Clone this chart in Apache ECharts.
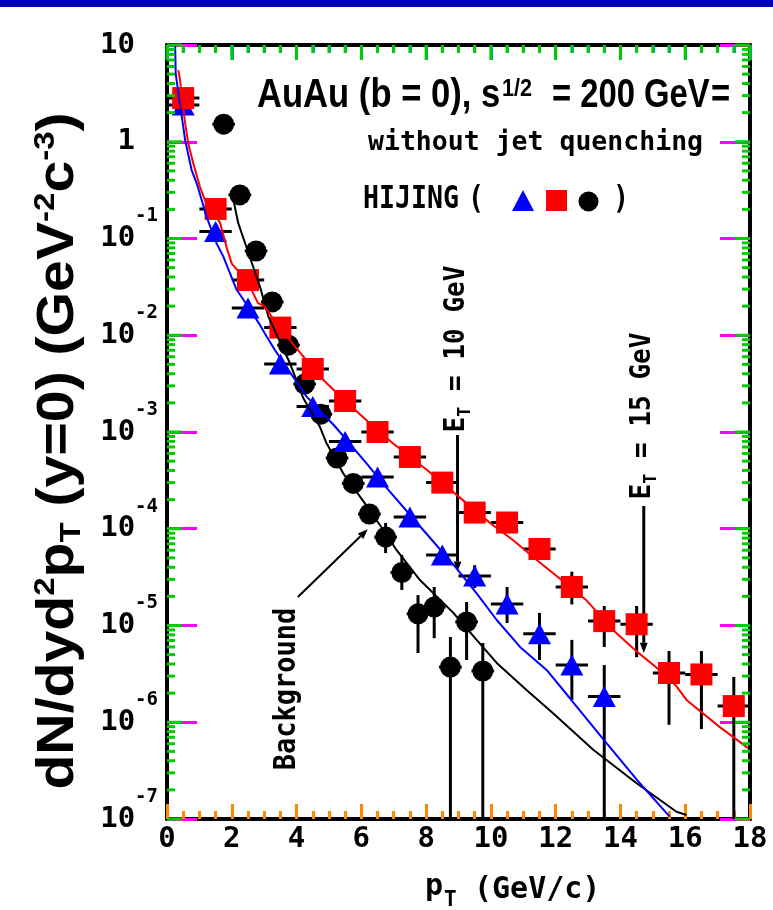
<!DOCTYPE html>
<html><head><meta charset="utf-8">
<script src="https://cdn.jsdelivr.net/npm/echarts@6/dist/echarts.min.js"></script>
<style>html,body{margin:0;padding:0;background:#fff}#c{width:773px;height:910px}</style>
</head><body><div id="c"></div>
<script>
// ---------- data ----------
const redPt  = [0.5,1.5,2.5,3.5,4.5,5.5,6.5,7.5,8.5,9.5,10.5,11.5,12.5,13.5,14.5,15.5,16.5,17.5];
const redVal = [2.83,0.202,0.0372,0.012,4.48e-3,2.09e-3,1.0e-3,5.52e-4,3.0e-4,1.47e-4,1.16e-4,6.18e-5,2.5e-5,1.11e-5,1.03e-5,3.23e-6,3.12e-6,1.47e-6];
const redLo  = [0,0,0,0,0,0,0,0,0,0,0,0,1.65e-5,6.0e-6,4.7e-6,9.4e-7,8.5e-7,1e-9];
const redHi  = [0,0,0,0,0,0,0,0,0,0,0,0,3.6e-5,1.59e-5,1.59e-5,5.45e-6,5.45e-6,2.94e-6];
const bluPt  = [0.5,1.5,2.5,3.5,4.5,5.5,6.5,7.5,8.5,9.5,10.5,11.5,12.5,13.5];
const bluVal = [2.4,0.118,0.0191,5.05e-3,1.84e-3,7.97e-4,3.43e-4,1.32e-4,5.36e-5,3.25e-5,1.67e-5,8.2e-6,3.9e-6,1.85e-6];
const bluLo  = [0,0,0,0,0,0,0,0,0,2.44e-5,1.06e-5,4.4e-6,1.7e-6,1e-9];
const bluHi  = [0,0,0,0,0,0,0,0,0,4.2e-5,2.5e-5,1.35e-5,7.1e-6,3.9e-6];
const blkPt  = [1.75,2.25,2.75,3.25,3.75,4.25,4.75,5.25,5.75,6.25,6.75,7.25,7.75,8.25,8.75,9.25,9.75];
const blkVal = [1.52,0.282,0.0743,0.0221,7.9e-3,3.13e-3,1.53e-3,5.38e-4,2.94e-4,1.42e-4,8.2e-5,3.53e-5,1.32e-5,1.55e-5,3.72e-6,1.09e-5,3.39e-6];
const blkLo  = [0,0,0,0,0,0,0,0,0,0,5.6e-5,2.33e-5,5.2e-6,7.4e-6,1e-9,4.4e-6,1e-9];
const blkHi  = [0,0,0,0,0,0,0,0,0,0,1.15e-4,5.36e-5,2.06e-5,2.5e-5,7.6e-6,1.75e-5,6.6e-6];
const redCurveX = [0.35,0.40,0.56,0.66,0.81,1.02,1.17,1.64,1.84,2.00,2.50,2.81,3.00,3.50,4.16,4.82,5.50,6.10,6.98,8.01,8.94,9.97,10.69,11.5,12.0,12.95,13.88,14.5,15.1,15.73,16.04,17.07,17.94];
const redCurveY = [5.5,4.4,1.55,0.95,0.60,0.34,0.25,0.145,0.081,0.055,0.035,0.0215,0.020,0.0117,0.0063,0.00347,0.00209,0.00138,7.6e-4,4.1e-4,2.24e-4,1.15e-4,7.6e-5,4.5e-5,3.3e-5,1.82e-5,8.3e-6,5.4e-6,3.7e-6,2.35e-6,1.7e-6,8.9e-7,5.4e-7];
const bluCurveX = [0.25,0.27,0.56,0.76,0.92,1.07,1.22,1.53,1.74,1.94,2.15,2.30,2.87,3.08,3.33,4.31,5.19,6.16,6.80,7.91,8.94,9.56,10.18,10.9,11.72,12.44,13.57,14.6,15.52];
const bluCurveY = [10,5.0,1.04,0.51,0.37,0.25,0.168,0.089,0.065,0.044,0.0295,0.025,0.0128,0.00966,0.00705,0.00232,0.00114,4.74e-4,2.6e-4,9.7e-5,3.9e-5,2.15e-5,1.14e-5,6.0e-6,3.47e-6,1.77e-6,6.07e-7,2.34e-7,1.06e-7];
const blkCurveX = [2.07,2.2,2.34,2.66,2.87,3.13,3.8,4.21,4.72,4.93,5.44,6.11,6.68,7.09,7.81,8.84,9.56,10.18,11.1,11.92,13.16,14.5,15.73,16.04];
const blkCurveY = [0.233,0.144,0.105,0.051,0.0318,0.0156,0.0051,0.00223,0.00113,7.6e-4,3.74e-4,1.83e-4,9.7e-5,6.0e-5,2.95e-5,1.35e-5,7.1e-6,4.1e-6,2.15e-6,1.24e-6,5.2e-7,2.34e-7,1.19e-7,1.1e-7];
const arrow10 = [[8.97,9.3e-4],[8.97,3.6e-5]];
const arrow15 = [[14.72,1.72e-4],[14.72,5.2e-6]];
const arrowBg = [[4.04,1.97e-5],[6.2,9.9e-5]];
const xTicks = {min:0, max:18, interval:2, minorStep:0.5};
const yRange = {min:1e-7, max:10};
const yDecades = [-7,-6,-5,-4,-3,-2,-1,0,1];

const MONO = "'DejaVu Sans Mono', monospace";
const SANS = "'Liberation Sans', Arial, sans-serif";
const zip = (a,b) => a.map((x,i)=>[x,b[i]]);
const errData = (pt,val,dx,lo,hi) => pt.map((x,i)=>[x,val[i],dx,lo[i],hi[i]]);

function renderErr(params, api){
  const cs = params.coordSys;
  const x=api.value(0), y=api.value(1), dx=api.value(2), lo=api.value(3), hi=api.value(4);
  const c=api.coord([x,y]), l=api.coord([x-dx,y]), r=api.coord([x+dx,y]);
  const ch=[{type:'line', shape:{x1:l[0],y1:c[1],x2:r[0],y2:c[1]}, style:{stroke:'#000', lineWidth:3}}];
  if(lo>0 && hi>0){
    const a=api.coord([x,hi]), b=api.coord([x,lo]);
    ch.push({type:'line', shape:{x1:c[0],y1:a[1],x2:c[0],y2:Math.min(b[1], cs.y+cs.height)}, style:{stroke:'#000', lineWidth:3}});
  }
  return {type:'group', children:ch};
}
function renderArrow(params, api){
  const p1=api.coord([api.value(0),api.value(1)]), p2=api.coord([api.value(2),api.value(3)]);
  const w=api.value(4), hs=api.value(5);
  const ang=Math.atan2(p2[1]-p1[1], p2[0]-p1[0]); const ux=Math.cos(ang), uy=Math.sin(ang);
  const bx=p2[0]-ux*hs*1.7, by=p2[1]-uy*hs*1.7;
  return {type:'group', children:[
    {type:'line', shape:{x1:p1[0],y1:p1[1],x2:bx,y2:by}, style:{stroke:'#000', lineWidth:w}},
    {type:'polygon', shape:{points:[[p2[0],p2[1]],[bx-uy*hs*0.65,by+ux*hs*0.65],[bx+uy*hs*0.65,by-ux*hs*0.65]]}, style:{fill:'#000'}}]};
}
const yMajorTicks=[], yMinorTicks=[];
yDecades.forEach(e=>{ yMajorTicks.push(Math.pow(10,e)); if(e<1) for(let k=2;k<=9;k++) yMinorTicks.push(k*Math.pow(10,e)); });
const xMajorTicks=[], xMinorTicks=[];
for(let v=xTicks.min; v<=xTicks.max+1e-9; v+=xTicks.minorStep){ (Math.abs(v%xTicks.interval)<1e-9 ? xMajorTicks : xMinorTicks).push(v); }
// DIAGNOSTIC colours: scatter ticks green
function tickSeries(data, size, offset){
  return {type:'scatter', silent:true, clip:false, z:6, symbol:'rect', symbolSize:size, symbolOffset:offset,
    itemStyle:{color:'#00cc00', opacity:1}, data:data};
}
function xAx(pos, labels, col){
  return {type:'value', position:pos, min:xTicks.min, max:xTicks.max, interval:xTicks.interval,
    axisLine:{show:true, onZero:false, lineStyle:{color:'#000', width:4}},
    axisTick:{show:true, inside:true, length:15, lineStyle:{color:col, width:3}},
    minorTick:{show:true, splitNumber:4, length:8, lineStyle:{color:col, width:3}},
    splitLine:{show:false}, minorSplitLine:{show:false},
    axisLabel:{show:labels, fontFamily:MONO, fontWeight:'bold', fontSize:29, color:'#000', margin:6}};
}
function yAx(pos, labels){
  return {type:'log', logBase:10, position:pos, min:yRange.min, max:yRange.max, splitNumber:8,
    axisLine:{show:true, onZero:false, lineStyle:{color:'#000', width:4}},
    axisTick:{show:true, inside:true, length:30, lineStyle:{color:'#ff00ff', width:3}},
    splitLine:{show:false},
    axisLabel:{show:labels, margin:9, color:'#000',
      formatter:function(v){const e=Math.round(Math.log10(v));
        if(e===1) return '{b|10}{sp| }'; if(e===0) return '{b|1}{sp| }';
        return '{b|10}{s|'+e+'}';},
      rich:{b:{fontFamily:MONO, fontWeight:'bold', fontSize:29, padding:[17,0,17,0], verticalAlign:'middle', color:'#000'},
            s:{fontFamily:MONO, fontWeight:'bold', fontSize:19, lineHeight:20, verticalAlign:'top', color:'#000'},
            sp:{width:23, fontSize:19}}}};
}
function txt(x,y,text,font,extra){
  const o={type:'text', x:x, y:y, z:100, style:{text:text, font:font, fill:'#000', align:'left', verticalAlign:'middle'}};
  if(extra){ if(extra.scaleX) o.scaleX=extra.scaleX; }
  return o;
}
function rtxt(x,y,text,font,scaleX,rich,lineHeight){
  const st={text:text, font:font, fill:'#000', align:'center', verticalAlign:'middle'};
  if(rich){ st.rich=rich; st.lineHeight=lineHeight; }
  return {type:'text', z:100, x:x, y:y, rotation:Math.PI/2, scaleX:scaleX, style:st};
}
const subRich = {sub:{fontSize:18, fontWeight:'bold', fontFamily:MONO, lineHeight:14, verticalAlign:'bottom', fill:'#000'}};

const chart = echarts.init(document.getElementById('c'));
chart.setOption({
  animation:false,
  backgroundColor:'#fff',
  grid:{left:167, right:23, top:45, bottom:91, containLabel:false},
  xAxis:[xAx('bottom',true,'#ff8800'), xAx('top',false,'#0088ff')],
  yAxis:[yAx('left',true), yAx('right',false)],
  series:[
    {type:'line', data:zip(blkCurveX,blkCurveY), showSymbol:false, symbol:'none', lineStyle:{color:'#000', width:2}},
    {type:'line', data:zip(bluCurveX,bluCurveY), showSymbol:false, symbol:'none', lineStyle:{color:'#0000ff', width:2}},
    {type:'line', data:zip(redCurveX,redCurveY), showSymbol:false, symbol:'none', lineStyle:{color:'#ff0000', width:2}},
    {type:'custom', renderItem:renderArrow, silent:true, data:[
      [arrow10[0][0],arrow10[0][1],arrow10[1][0],arrow10[1][1],3,6],
      [arrow15[0][0],arrow15[0][1],arrow15[1][0],arrow15[1][1],3,6],
      [arrowBg[0][0],arrowBg[0][1],arrowBg[1][0],arrowBg[1][1],2,6]]},
    {type:'custom', renderItem:renderErr, data:errData(blkPt,blkVal,0.35,blkLo,blkHi)},
    {type:'custom', renderItem:renderErr, data:errData(bluPt,bluVal,0.5,bluLo,bluHi)},
    {type:'custom', renderItem:renderErr, data:errData(redPt,redVal,0.5,redLo,redHi)},
    {type:'scatter', data:zip(blkPt,blkVal), symbol:'circle', symbolSize:21, itemStyle:{color:'#000', opacity:1}},
    {type:'scatter', data:zip(bluPt,bluVal), symbol:'triangle', symbolSize:[23,21], itemStyle:{color:'#0000ff', opacity:1}},
    {type:'scatter', data:zip(redPt,redVal), symbol:'rect', symbolSize:22, itemStyle:{color:'#ff0000', opacity:1}},
    tickSeries(yMajorTicks.map(v=>[xTicks.min,v]), [15,3], [7.5,0]),
    tickSeries(yMinorTicks.map(v=>[xTicks.min,v]), [8,3], [4,0]),
    tickSeries(yMajorTicks.map(v=>[xTicks.max,v]), [15,3], [-7.5,0]),
    tickSeries(yMinorTicks.map(v=>[xTicks.max,v]), [8,3], [-4,0]),
    tickSeries(xMajorTicks.map(v=>[v,yRange.max]), [3,15], [0,7.5]),
    tickSeries(xMinorTicks.map(v=>[v,yRange.max]), [3,8], [0,4])
  ],
  graphic:[
    {type:'rect', shape:{x:0,y:0,width:773,height:7}, style:{fill:'#0000bb'}},
    txt(257,96,'AuAu (b = 0), s','bold 40px '+SANS,{scaleX:0.865}),
    txt(502,89,'1/2','bold 24px '+SANS,{scaleX:0.9}),
    txt(552,96,'= 200 GeV','bold 40px '+SANS,{scaleX:0.82}),
    txt(711,96,'=','bold 40px '+SANS,{scaleX:0.82}),
    txt(368,143,'without jet quenching','bold 26.5px '+MONO),
    txt(363,200,'HIJING','bold 32px '+MONO,{scaleX:0.83}),
    txt(468,200,'(','bold 32px '+MONO,{scaleX:0.83}),
    txt(613,200,')','bold 32px '+MONO,{scaleX:0.83}),
    {type:'polygon', z:100, shape:{points:[[512,211],[534,211],[523,190]]}, style:{fill:'#0000ff'}},
    {type:'rect', z:100, shape:{x:546,y:190,width:21,height:21}, style:{fill:'#ff0000'}},
    {type:'circle', z:100, shape:{cx:588.5,cy:201.5,r:10}, style:{fill:'#000'}},
    rtxt(457,349,'E{sub|T} = 10 GeV','bold 28px '+MONO,0.93,subRich,34),
    rtxt(643,416,'E{sub|T} = 15 GeV','bold 28px '+MONO,0.93,subRich,34),
    rtxt(287,689,'Background','bold 30px '+MONO,0.9),
    rtxt(59,451,'dN/dyd{sup|2}p{sub|T} (y=0) (GeV{sup|-2}c{sup|-3})','bold 52px '+SANS,1.1,
      {sup:{fontSize:30, fontWeight:'bold', fontFamily:SANS, lineHeight:14, verticalAlign:'top', fill:'#000'},
       sub:{fontSize:30, fontWeight:'bold', fontFamily:SANS, lineHeight:28, verticalAlign:'bottom', fill:'#000'}},56),
    txt(425,887,'p','bold 30px '+MONO),
    txt(444,901,'T','bold 21px '+MONO),
    txt(474,890,'(GeV/c)','bold 30px '+MONO)
  ]
});
</script></body></html>
